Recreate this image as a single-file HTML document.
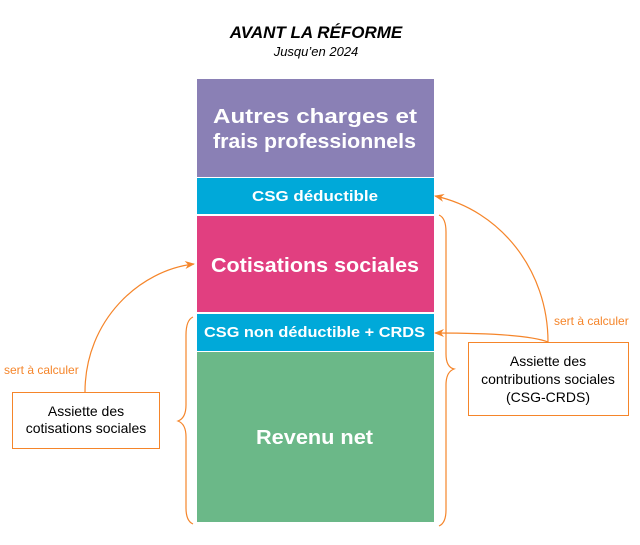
<!DOCTYPE html>
<html><head><meta charset="utf-8"><style>
html,body{margin:0;padding:0;background:#fff;width:640px;height:545px;overflow:hidden}
svg{display:block}
</style></head><body>
<svg width="640" height="545" viewBox="0 0 640 545" xmlns="http://www.w3.org/2000/svg" font-family="Liberation Sans, sans-serif">
<defs>
<marker id="ah" markerWidth="10" markerHeight="8" refX="9" refY="4" orient="auto" markerUnits="userSpaceOnUse">
<path d="M0,0 L10,4 L0,8 L3,4 Z" fill="#f5852a"/>
</marker>
</defs>
<text x="316" y="38" text-anchor="middle" font-size="17" font-weight="bold" font-style="italic" fill="#000">AVANT LA RÉFORME</text>
<text x="316" y="56" text-anchor="middle" font-size="13" font-style="italic" fill="#000">Jusqu’en 2024</text>

<rect x="197" y="79" width="237" height="98" fill="#8a80b5"/>
<rect x="197" y="178" width="237" height="36" fill="#00a9d9"/>
<rect x="197" y="216" width="237" height="96" fill="#e13f80"/>
<rect x="197" y="314" width="237" height="37" fill="#00a9d9"/>
<rect x="197" y="352" width="237" height="170" fill="#6bb888"/>

<g fill="#fff" font-weight="bold">
<text x="213" y="123" font-size="20" textLength="204" lengthAdjust="spacingAndGlyphs">Autres charges et</text>
<text x="213" y="148" font-size="20" textLength="203" lengthAdjust="spacingAndGlyphs">frais professionnels</text>
<text x="252" y="201" font-size="15" textLength="126" lengthAdjust="spacingAndGlyphs">CSG déductible</text>
<text x="211" y="272" font-size="20" textLength="208" lengthAdjust="spacingAndGlyphs">Cotisations sociales</text>
<text x="204" y="337" font-size="15" textLength="221" lengthAdjust="spacingAndGlyphs">CSG non déductible + CRDS</text>
<text x="256" y="444" font-size="20" textLength="117" lengthAdjust="spacingAndGlyphs">Revenu net</text>
</g>

<g fill="none" stroke="#f5852a" stroke-width="1.2">
<path d="M193,317 Q186,320 186,335 L186,405 Q186,418 178,421 Q186,424 186,437 L186,508 Q186,521 193,524"/>
<path d="M439,215 Q446,218 446,232 L446,354 Q446,367 454,369 Q446,372 446,385 L446,510 Q446,523 439,526"/>
<path d="M85,392 C85,320 140,270 194,264" marker-end="url(#ah)"/>
<path d="M548,342 C548,270 500,210 435,196" marker-end="url(#ah)"/>
<path d="M548,342 C530,335 480,333 435,333" marker-end="url(#ah)"/>
</g>

<rect x="12.5" y="392.5" width="147" height="56" fill="#fff" stroke="#f5852a" stroke-width="1"/>
<text x="86" y="416" text-anchor="middle" font-size="14" fill="#000">Assiette des</text>
<text x="86" y="433" text-anchor="middle" font-size="14" fill="#000">cotisations sociales</text>

<rect x="468.5" y="342.5" width="160" height="73" fill="#fff" stroke="#f5852a" stroke-width="1"/>
<text x="548" y="366" text-anchor="middle" font-size="14" fill="#000">Assiette des</text>
<text x="548" y="384" text-anchor="middle" font-size="14" fill="#000">contributions sociales</text>
<text x="548" y="402" text-anchor="middle" font-size="14" fill="#000">(CSG-CRDS)</text>

<text x="4" y="374" font-size="12" fill="#f5852a">sert à calculer</text>
<text x="554" y="325" font-size="12" fill="#f5852a">sert à calculer</text>
</svg>
</body></html>
